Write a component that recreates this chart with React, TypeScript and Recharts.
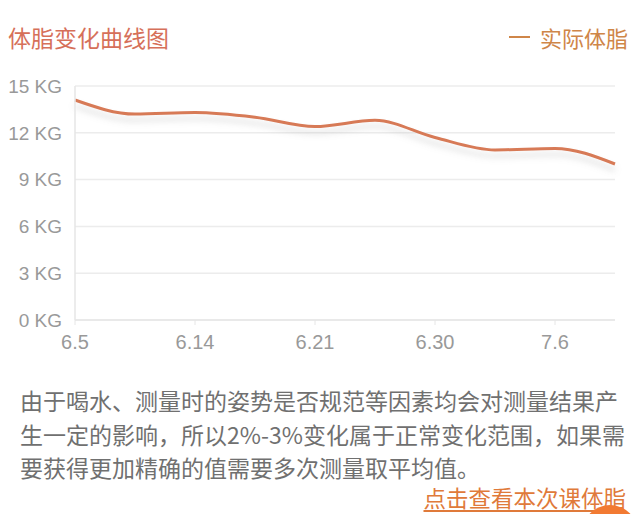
import { CartesianGrid, Line, LineChart, XAxis, YAxis } from "recharts";

const dates = ["6.5", "6.9", "6.14", "6.17", "6.21", "6.26", "6.30", "7.3", "7.6", "7.10"];
const bodyFat = [14.1, 13.2, 13.3, 13.0, 12.4, 12.8, 11.7, 10.9, 11.0, 10.0];
const yTicks = [0, 3, 6, 9, 12, 15];

const data = dates.map((d, i) => ({ date: d, fat: bodyFat[i] }));

const cjk = '"Noto Sans CJK SC", "Noto Sans", sans-serif';
const latin = '"Liberation Sans", Arial, sans-serif';

export default function App() {
  return (
    <div
      style={{
        position: "absolute",
        left: 0,
        top: 0,
        width: 640,
        height: 514,
        overflow: "hidden",
        background: "#fff",
        fontFamily: cjk,
      }}
    >
      <div style={{ position: "absolute", left: 8, top: 21, fontSize: 23, lineHeight: "32px", color: "#d6705a" }}>
        体脂变化曲线图
      </div>
      <div
        style={{
          position: "absolute",
          right: 12,
          top: 21,
          fontSize: 22,
          lineHeight: "32px",
          color: "#cf8648",
          display: "flex",
          alignItems: "center",
          gap: 10,
        }}
      >
        <span style={{ display: "inline-block", width: 21, height: 2, background: "#cf8648" }} />
        <span>实际体脂</span>
      </div>

      <div style={{ position: "absolute", left: 0, top: 0 }}>
        <LineChart width={640} height={365} data={data} margin={{ top: 86, right: 25, left: 15, bottom: 8 }}>
          <defs>
            <filter id="lineShadow" x="-5%" y="-50%" width="110%" height="300%">
              <feDropShadow dx="0" dy="6" stdDeviation="3" floodColor="#9a9a9a" floodOpacity="0.35" />
            </filter>
          </defs>
          <CartesianGrid vertical={false} stroke="#ececec" strokeWidth={1.5} />
          <XAxis
            dataKey="date"
            interval={1}
            axisLine={{ stroke: "#e6e6e6", strokeWidth: 1.5 }}
            tickLine={{ stroke: "#e6e6e6" }}
            tickSize={5}
            tickMargin={10}
            height={37}
            tick={{ fill: "#999999", fontSize: 20, fontFamily: latin }}
          />
          <YAxis
            domain={[0, 15]}
            ticks={yTicks}
            width={60}
            axisLine={{ stroke: "#e6e6e6", strokeWidth: 1.5 }}
            tickLine={false}
            tickMargin={7}
            tickFormatter={(v: number) => `${v} KG`}
            tick={{ fill: "#999999", fontSize: 19, fontFamily: latin }}
          />
          <Line
            type="monotone"
            dataKey="fat"
            stroke="#d77a57"
            strokeWidth={3}
            dot={false}
            activeDot={false}
            filter="url(#lineShadow)"
            isAnimationActive={false}
          />
        </LineChart>
      </div>

      <div
        style={{
          position: "absolute",
          left: 20,
          top: 384,
          fontSize: 23,
          lineHeight: "33.5px",
          color: "#707070",
          whiteSpace: "nowrap",
        }}
      >
        <div>由于喝水、测量时的姿势是否规范等因素均会对测量结果产</div>
        <div>生一定的影响，所以2%-3%变化属于正常变化范围，如果需</div>
        <div>要获得更加精确的值需要多次测量取平均值。</div>
      </div>

      <div
        style={{
          position: "absolute",
          right: 14,
          top: 481,
          fontSize: 22.5,
          lineHeight: "32px",
          color: "#e07a3a",
          textDecoration: "underline",
          textUnderlineOffset: 3,
          whiteSpace: "nowrap",
        }}
      >
        点击查看本次课体脂
      </div>
      <div
        style={{
          position: "absolute",
          left: 582,
          top: 505,
          width: 56,
          height: 56,
          borderRadius: "50%",
          background: "#f27a32",
        }}
      />
    </div>
  );
}
